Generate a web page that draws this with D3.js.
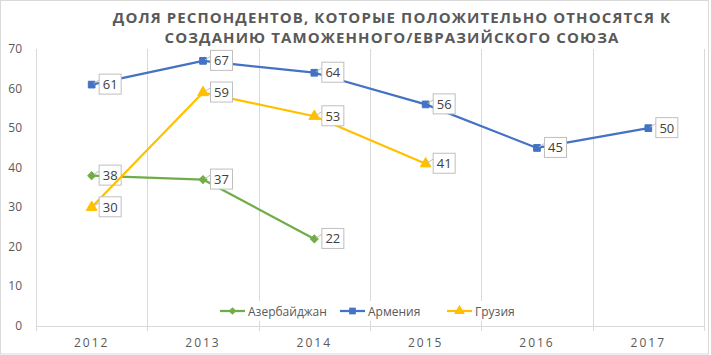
<!DOCTYPE html>
<html><head><meta charset="utf-8">
<script src="https://cdn.jsdelivr.net/npm/d3@7"></script>
<style>body{margin:0;background:#fff}svg{display:block}</style>
</head><body>
<script>
const years = ["2012","2013","2014","2015","2016","2017"];
const azerbaijan = [38, 37, 22, null, null, null];
const armenia = [61, 67, 64, 56, 45, 50];
const georgia = [30, 59, 53, 41, null, null];
const yTicks = [0,10,20,30,40,50,60,70];
const titleLines = ["ДОЛЯ РЕСПОНДЕНТОВ, КОТОРЫЕ ПОЛОЖИТЕЛЬНО ОТНОСЯТСЯ К","СОЗДАНИЮ ТАМОЖЕННОГО/ЕВРАЗИЙСКОГО СОЮЗА"];
const seriesNames = ["Азербайджан","Армения","Грузия"];

const W=711,H=355;
const m={left:36,right:7,top:49,bottom:29};
const svg=d3.select("body").append("svg").attr("width",W).attr("height",H);
svg.append("rect").attr("x",0.5).attr("y",0.5).attr("width",W-3).attr("height",H-1.5).attr("fill","#fff").attr("stroke","#d9d9d9");

const x=d3.scaleBand().domain(years).range([m.left,W-m.right]).padding(0);
const y=d3.scaleLinear().domain([0,70]).range([H-m.bottom,m.top]);
const font="Open Sans, sans-serif";
const gray="#595959";

const bounds=years.map(d=>x(d)).concat([x(years[years.length-1])+x.bandwidth()]);
svg.append("g").selectAll("line").data(bounds).join("line")
  .attr("x1",d=>Math.round(d)+0.5).attr("x2",d=>Math.round(d)+0.5)
  .attr("y1",y(70)).attr("y2",y(0)+5)
  .attr("stroke","#d9d9d9").attr("stroke-width",1);
svg.append("line").attr("x1",m.left).attr("x2",W-m.right).attr("y1",Math.round(y(0))+0.5).attr("y2",Math.round(y(0))+0.5).attr("stroke","#d9d9d9");

svg.append("g").selectAll("text").data(yTicks).join("text")
  .attr("x",22).attr("y",d=>y(d)+4).attr("text-anchor","end")
  .attr("font-family",font).attr("font-size",12).attr("fill",gray).text(d=>d);
svg.append("g").selectAll("text").data(years).join("text")
  .attr("x",d=>x(d)+x.bandwidth()/2).attr("y",H-8).attr("text-anchor","middle")
  .attr("font-family",font).attr("font-size",12).attr("letter-spacing","2px").attr("fill",gray).text(d=>d);

svg.append("g").selectAll("text").data(titleLines).join("text")
  .attr("x",392).attr("y",(d,i)=>23+i*20).attr("text-anchor","middle")
  .attr("font-family",font).attr("font-weight","bold").attr("font-size",15).attr("letter-spacing","1.1px")
  .attr("fill",gray).text(d=>d);

const series=[
  {name:seriesNames[0],vals:azerbaijan,color:"#70AD47",sym:d3.symbolSquare,size:30,rot:45},
  {name:seriesNames[1],vals:armenia,color:"#4472C4",sym:d3.symbolSquare,size:45,rot:0},
  {name:seriesNames[2],vals:georgia,color:"#FFC000",sym:d3.symbolTriangle,size:50,rot:0}
];
const cx=d=>x(d.year)+x.bandwidth()/2;
const line=d3.line().defined(d=>d.v!=null).x(cx).y(d=>y(d.v));
series.forEach(s=>{
  const pts=years.map((yr,i)=>({year:yr,v:s.vals[i]}));
  svg.append("path").datum(pts).attr("d",line).attr("fill","none").attr("stroke",s.color).attr("stroke-width",2.25).attr("stroke-linejoin","round");
  const dp=pts.filter(d=>d.v!=null);
  svg.append("g").selectAll("path").data(dp).join("path")
    .attr("transform",d=>`translate(${cx(d)},${y(d.v)}) rotate(${s.rot})`)
    .attr("d",d3.symbol().type(s.sym).size(s.size)).attr("fill",s.color).attr("stroke",s.color);
  const g=svg.append("g").selectAll("g").data(dp).join("g")
    .attr("transform",d=>`translate(${cx(d)},${y(d.v)})`);
  g.append("line").attr("x1",2).attr("y1",-1).attr("x2",8).attr("y2",-5).attr("stroke","#bfbfbf");
  g.append("rect").attr("x",7.5).attr("y",-10.5).attr("width",22).attr("height",20).attr("fill","#fff").attr("stroke","#bfbfbf");
  g.append("text").attr("x",18.5).attr("y",4.5).attr("text-anchor","middle")
    .attr("font-family",font).attr("font-size",13).attr("fill","#404040").text(d=>d.v);
});

const leg=[{x:220},{x:340},{x:447}];
const lg=svg.append("g");
lg.append("rect").attr("x",212).attr("y",301).attr("width",310).attr("height",20).attr("fill","#fff");
series.forEach((s,i)=>{
  const lx=leg[i].x, ly=311;
  lg.append("line").attr("x1",lx).attr("x2",lx+25).attr("y1",ly).attr("y2",ly).attr("stroke",s.color).attr("stroke-width",2.25);
  lg.append("path").attr("transform",`translate(${lx+12.5},${ly}) rotate(${s.rot})`).attr("d",d3.symbol().type(s.sym).size(s.size)).attr("fill",s.color);
  lg.append("text").attr("x",lx+28).attr("y",ly+4.5).attr("font-family",font).attr("font-size",12).attr("fill",gray).text(s.name);
});
</script>
</body></html>
